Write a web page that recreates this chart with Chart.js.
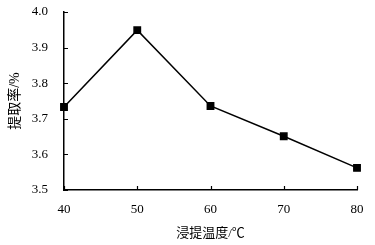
<!DOCTYPE html>
<html>
<head>
<meta charset="utf-8">
<script src="https://cdn.jsdelivr.net/npm/chart.js@4"></script>
<style>
  html, body { margin: 0; padding: 0; background: #fff; }
  #wrap { width: 375px; height: 245px; }
</style>
</head>
<body>
<div id="wrap"><canvas id="chart" width="375" height="245"></canvas></div>
<script>
  const temps = [40, 50, 60, 70, 80];
  const yieldRate = [3.733, 3.949, 3.736, 3.651, 3.562];
  const xTicks = [40, 50, 60, 70, 80];
  const yTicks = [3.5, 3.6, 3.7, 3.8, 3.9, 4.0];
  const xTitle = '浸提温度/℃';
  const yTitle = '提取率/%';

  const serif = '"Liberation Serif", "DejaVu Serif", serif';
  const cjk = '"Liberation Serif", "Noto Sans CJK SC", serif';

  // short inward ticks like the printed figure
  const inwardTicks = {
    id: 'inwardTicks',
    afterDraw(chart) {
      const { ctx, scales: { x, y }, chartArea: a } = chart;
      ctx.save();
      ctx.strokeStyle = '#000';
      ctx.lineWidth = 1.2;
      ctx.beginPath();
      yTicks.forEach(v => {
        const py = Math.round(y.getPixelForValue(v)) + 0.5;
        ctx.moveTo(a.left, py); ctx.lineTo(a.left + 4, py);
      });
      xTicks.forEach(v => {
        const px = Math.round(x.getPixelForValue(v)) + 0.5;
        ctx.moveTo(px, a.bottom); ctx.lineTo(px, a.bottom - 4);
      });
      ctx.stroke();
      ctx.restore();
    }
  };

  new Chart(document.getElementById('chart'), {
    type: 'line',
    data: {
      datasets: [{
        data: temps.map((t, i) => ({ x: t, y: yieldRate[i] })),
        borderColor: '#000',
        borderWidth: 1.5,
        backgroundColor: '#000',
        pointStyle: 'rect',
        pointRadius: 4.5,
        pointHoverRadius: 4.5,
        tension: 0,
        clip: false
      }]
    },
    options: {
      responsive: false,
      animation: false,
      layout: { autoPadding: false, padding: { left: 0, top: 12, right: 18, bottom: 0 } },
      plugins: { legend: { display: false }, tooltip: { enabled: false } },
      scales: {
        x: {
          type: 'linear',
          min: 40, max: 80,
          afterBuildTicks(s) { s.ticks = xTicks.map(v => ({ value: v })); },
          afterFit(s) { s.height = 55; s.paddingLeft = 0; s.paddingRight = 0; },
          grid: { display: false, drawTicks: false },
          border: { display: true, color: '#000', width: 1.5 },
          ticks: { color: '#000', padding: 12, font: { family: serif, size: 13 } },
          title: { display: true, text: xTitle, color: '#000', font: { family: cjk, size: 13 }, padding: { top: 0, bottom: 4 } }
        },
        y: {
          min: 3.5, max: 4.0,
          afterBuildTicks(s) { s.ticks = yTicks.map(v => ({ value: v })); },
          afterFit(s) { s.width = 64; s.paddingTop = 0; s.paddingBottom = 0; },
          grid: { display: false, drawTicks: false },
          border: { display: true, color: '#000', width: 1.5 },
          ticks: { color: '#000', padding: 16, font: { family: serif, size: 13 }, callback: v => v.toFixed(1) },
          title: { display: true, text: yTitle, color: '#000', font: { family: cjk, size: 14 }, padding: { top: 7, bottom: 0 } }
        }
      }
    },
    plugins: [inwardTicks]
  });
</script>
</body>
</html>
